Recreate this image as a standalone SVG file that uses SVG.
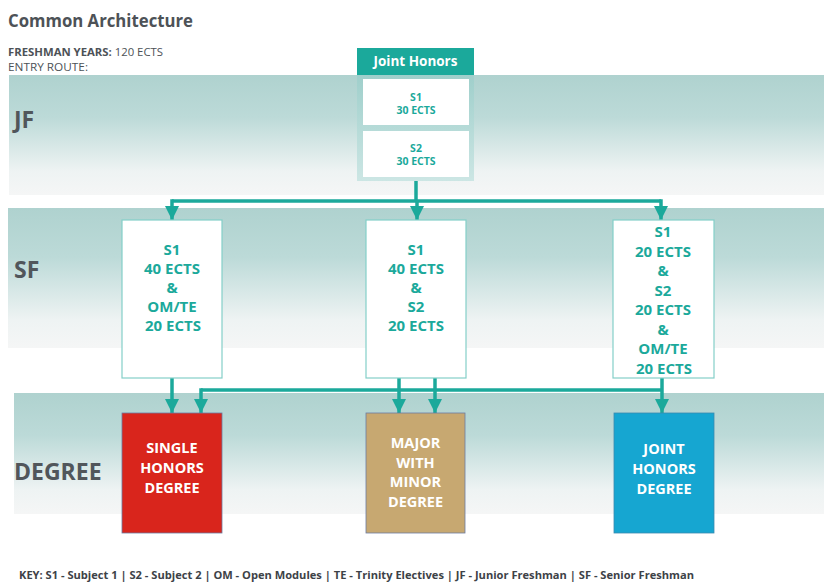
<svg xmlns="http://www.w3.org/2000/svg" width="824" height="582" viewBox="0 0 824 582">
<style>
.title{font-family:"Open Sans","DejaVu Sans",sans-serif;font-weight:700;font-size:18px;fill:#4d5257}
.meta{font-family:"Open Sans","DejaVu Sans",sans-serif;font-size:11px;fill:#4d5257}
.row{font-family:"Open Sans","DejaVu Sans",sans-serif;font-weight:700;font-size:23px;fill:#51565b}
.bx{fill:#ffffff;stroke:#84cfc8;stroke-width:1.2}
.t{font-family:"Open Sans","DejaVu Sans",sans-serif;font-weight:700;font-size:15px;fill:#1ba99b;text-anchor:middle}
.ts{font-family:"Open Sans","DejaVu Sans",sans-serif;font-weight:700;font-size:10.5px;fill:#1ba99b;text-anchor:middle}
.w{font-family:"Open Sans","DejaVu Sans",sans-serif;font-weight:700;font-size:14.5px;fill:#ffffff;text-anchor:middle}
.ln{fill:none;stroke:#1ba99b;stroke-width:3.5}
.ar{fill:none;stroke:#1ba99b;stroke-width:3.5;marker-end:url(#ah)}
</style>
<defs>
<linearGradient id="band" x1="0" y1="0" x2="0" y2="1">
<stop offset="0" stop-color="#afd2cf"/>
<stop offset="0.35" stop-color="#bcdad8"/>
<stop offset="0.8" stop-color="#eef3f3"/>
<stop offset="1" stop-color="#f5f6f6"/>
</linearGradient>
<linearGradient id="jh" x1="0" y1="0" x2="0" y2="1">
<stop offset="0" stop-color="#9fcfcb"/>
<stop offset="1" stop-color="#cce6e4"/>
</linearGradient>
<marker id="ah" markerUnits="userSpaceOnUse" markerWidth="16" markerHeight="14" refX="14" refY="7" orient="auto">
<path d="M0,0 L14,7 L0,14 z" fill="#1ba99b"/>
</marker>
</defs>
<rect width="824" height="582" fill="#ffffff"/>

<g id="header">
<text class="title" x="8" y="27" textLength="185" lengthAdjust="spacingAndGlyphs">Common Architecture</text>
<text class="meta" x="8" y="56" textLength="155" lengthAdjust="spacingAndGlyphs"><tspan font-weight="700">FRESHMAN YEARS:</tspan> 120 ECTS</text>
<text class="meta" x="8" y="71" textLength="80" lengthAdjust="spacingAndGlyphs">ENTRY ROUTE:</text>
</g>

<g id="bands">
<rect x="9" y="75" width="815" height="120" fill="url(#band)"/>
<rect x="8" y="208" width="816" height="140" fill="url(#band)"/>
<rect x="14" y="393" width="810" height="121" fill="url(#band)"/>
<text class="row" x="14" y="128">JF</text>
<text class="row" x="14" y="278">SF</text>
<text class="row" x="14" y="480">DEGREE</text>
</g>

<g id="connectors">
<path class="ln" d="M416,180 V201"/>
<path class="ln" d="M172,201 H661"/>
<path class="ar" d="M172,199.25 V220"/>
<path class="ar" d="M417,201 V220"/>
<path class="ar" d="M661,199.25 V220"/>
<path class="ln" d="M201,390 H662"/>
<path class="ar" d="M172,378 V413"/>
<path class="ar" d="M201,388.25 V413"/>
<path class="ar" d="M399,378 V413"/>
<path class="ar" d="M435,378 V413"/>
<path class="ar" d="M662,378 V413"/>
</g>

<g id="joint-honors-entry">
<rect x="357" y="75" width="117" height="106" fill="url(#jh)"/>
<rect x="357" y="48" width="117" height="27" fill="#1ba99b"/>
<text x="415.5" y="66" font-family="Open Sans, DejaVu Sans, sans-serif" font-weight="700" font-size="13.5" fill="#ffffff" text-anchor="middle">Joint Honors</text>
</g>
<g id="jf-s1">
<rect x="363" y="79" width="106" height="46" fill="#ffffff"/>
<text class="ts" x="416" y="101">S1</text>
<text class="ts" x="416" y="114">30 ECTS</text>
</g>
<g id="jf-s2">
<rect x="363" y="131" width="106" height="46" fill="#ffffff"/>
<text class="ts" x="416" y="152">S2</text>
<text class="ts" x="416" y="165">30 ECTS</text>
</g>

<g id="sf-left">
<rect class="bx" x="122" y="220" width="100" height="158"/>
<text class="t" x="172" y="255">S1</text>
<text class="t" x="172" y="274">40 ECTS</text>
<text class="t" x="172" y="293">&amp;</text>
<text class="t" x="172" y="312">OM/TE</text>
<text class="t" x="173" y="331">20 ECTS</text>
</g>
<g id="sf-middle">
<rect class="bx" x="366" y="220" width="100" height="158"/>
<text class="t" x="416" y="255">S1</text>
<text class="t" x="416" y="274">40 ECTS</text>
<text class="t" x="416" y="293">&amp;</text>
<text class="t" x="416" y="312">S2</text>
<text class="t" x="416" y="331">20 ECTS</text>
</g>
<g id="sf-right">
<rect class="bx" x="613" y="220" width="101" height="158"/>
<text class="t" x="663" y="237">S1</text>
<text class="t" x="663" y="257">20 ECTS</text>
<text class="t" x="663" y="276">&amp;</text>
<text class="t" x="663" y="296">S2</text>
<text class="t" x="663" y="315">20 ECTS</text>
<text class="t" x="663" y="335">&amp;</text>
<text class="t" x="663" y="354">OM/TE</text>
<text class="t" x="664" y="374">20 ECTS</text>
</g>

<g id="single-honors">
<rect x="122" y="413" width="100" height="120" fill="#d9251c" stroke="#6b7aa0" stroke-width="0.8"/>
<text class="w" x="172" y="453">SINGLE</text>
<text class="w" x="172" y="473">HONORS</text>
<text class="w" x="172" y="493">DEGREE</text>
</g>
<g id="major-minor">
<rect x="366" y="413" width="99" height="120" fill="#c7a871" stroke="#6b7aa0" stroke-width="0.8"/>
<text class="w" x="415.5" y="448">MAJOR</text>
<text class="w" x="415.5" y="468">WITH</text>
<text class="w" x="415.5" y="487">MINOR</text>
<text class="w" x="415.5" y="507">DEGREE</text>
</g>
<g id="joint-honors-degree">
<rect x="614" y="413" width="100" height="120" fill="#16a6d1" stroke="#3a8ab0" stroke-width="0.8"/>
<text class="w" x="664" y="454">JOINT</text>
<text class="w" x="664" y="474">HONORS</text>
<text class="w" x="664" y="494">DEGREE</text>
</g>

<g id="key">
<text x="19" y="579" font-family="Open Sans, DejaVu Sans, sans-serif" font-weight="700" font-size="11" fill="#3d4247" textLength="675" lengthAdjust="spacingAndGlyphs">KEY: S1 - Subject 1 | S2 - Subject 2 | OM - Open Modules | TE - Trinity Electives | JF - Junior Freshman | SF - Senior Freshman</text>
</g>
</svg>
